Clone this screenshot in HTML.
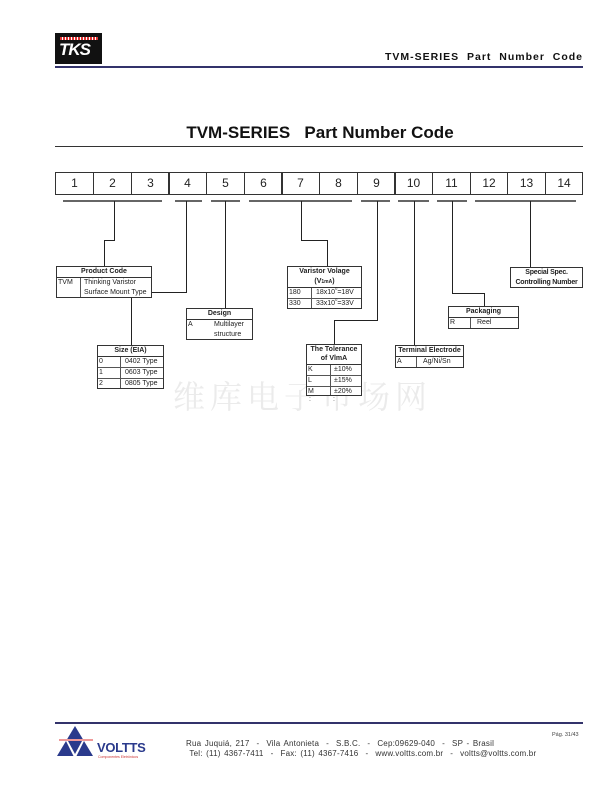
<!DOCTYPE html>
<html><head><meta charset="utf-8"><style>
body{margin:0;background:#fff}
#p{position:relative;width:612px;height:792px;overflow:hidden;font-family:"Liberation Sans",Arial,sans-serif;color:#222;background:#fff}
.a{position:absolute}
.t{position:absolute;border:1px solid #333;background:#fff;font-size:7px;line-height:10px;box-sizing:border-box}
.h{font-weight:bold;text-align:center;border-bottom:1px solid #333;font-size:7px}
.r{position:relative;height:10px;border-bottom:1px solid #555}
.r:last-child{border-bottom:none}
.c1{position:absolute;left:1px;top:0}
.c2{position:absolute;top:0;white-space:nowrap}
.v{position:absolute;top:0;bottom:0;border-left:1px solid #555}
.cell{position:absolute;top:172px;height:23px;border:1px solid #333;box-sizing:border-box;font-size:12px;line-height:21px;text-align:center;color:#222}
sup{font-size:4px;line-height:0;vertical-align:4px}
</style></head><body><div id="p">
<div class="a" style="left:55px;top:33px;width:47px;height:31px;background:#111"></div>
<div class="a" style="left:60px;top:37px;width:38px;height:3px;background:repeating-linear-gradient(90deg,#d33 0 2px,#fff 2px 3px)"></div>
<div class="a" style="left:59px;top:40px;font:italic bold 17px 'Liberation Sans',sans-serif;color:#fff;letter-spacing:-1px">TKS</div>
<div class="a" style="left:300px;top:51px;width:283px;text-align:right;font-weight:bold;font-size:10.5px;letter-spacing:1px;color:#111">TVM-SERIES&nbsp; Part&nbsp; Number&nbsp; Code</div>
<div class="a" style="left:55px;top:66px;width:528px;height:2px;background:#33336b"></div>
<div class="a" style="left:0;top:123px;width:640px;text-align:center;font-weight:bold;font-size:17px;color:#111">TVM-SERIES&nbsp;&nbsp; Part Number Code</div>
<div class="a" style="left:55px;top:146px;width:528px;height:1px;background:#333"></div>

<div class="cell" style="left:55px;width:39px">1</div>
<div class="cell" style="left:93px;width:39px">2</div>
<div class="cell" style="left:131px;width:39px">3</div>
<div class="cell" style="left:168px;width:39px">4</div>
<div class="cell" style="left:206px;width:39px">5</div>
<div class="cell" style="left:244px;width:39px">6</div>
<div class="cell" style="left:281px;width:39px">7</div>
<div class="cell" style="left:319px;width:39px">8</div>
<div class="cell" style="left:357px;width:39px">9</div>
<div class="cell" style="left:394px;width:39px">10</div>
<div class="cell" style="left:432px;width:39px">11</div>
<div class="cell" style="left:470px;width:38px">12</div>
<div class="cell" style="left:507px;width:39px">13</div>
<div class="cell" style="left:545px;width:38px">14</div>

<div class="a" style="left:173px;top:372px;font-family:'Noto Serif CJK SC',serif;font-size:32px;letter-spacing:5px;color:#ebebeb">维库电子市场网</div>

<svg class="a" style="left:0;top:0" width="612" height="792">
<g stroke="#666" stroke-width="2">
<line x1="63" y1="201" x2="162" y2="201"/><line x1="175" y1="201" x2="202" y2="201"/>
<line x1="211" y1="201" x2="240" y2="201"/><line x1="249" y1="201" x2="352" y2="201"/>
<line x1="361" y1="201" x2="390" y2="201"/><line x1="398" y1="201" x2="429" y2="201"/>
<line x1="437" y1="201" x2="467" y2="201"/><line x1="475" y1="201" x2="576" y2="201"/>
</g>
<g stroke="#222" stroke-width="1" fill="none">
<polyline points="114.5,201 114.5,240.5 104.5,240.5 104.5,267"/>
<polyline points="186.5,201 186.5,292.5 131.5,292.5 131.5,345"/>
<polyline points="225.5,201 225.5,308"/>
<polyline points="301.5,201 301.5,240.5 327.5,240.5 327.5,266"/>
<polyline points="377.5,201 377.5,320.5 334.5,320.5 334.5,344"/>
<polyline points="414.5,201 414.5,345"/>
<polyline points="452.5,201 452.5,293.5 484.5,293.5 484.5,306"/>
<polyline points="530.5,201 530.5,267"/>
</g>
</svg>

<div class="t" style="left:56px;top:266px;width:96px;height:32px">
<div class="h" style="height:10px">Product Code</div>
<div class="v" style="left:23px;top:11px"></div>
<div class="c1" style="top:11px">TVM</div>
<div class="c2" style="left:27px;top:11px">Thinking Varistor<br>Surface Mount Type</div>
</div>

<div class="t" style="left:97px;top:345px;width:67px;height:44px">
<div class="h" style="height:10px">Size (EIA)</div>
<div class="v" style="left:22px;top:11px"></div>
<div class="r"><span class="c1">0</span><span class="c2" style="left:27px">0402 Type</span></div>
<div class="r"><span class="c1">1</span><span class="c2" style="left:27px">0603 Type</span></div>
<div class="r"><span class="c1">2</span><span class="c2" style="left:27px">0805 Type</span></div>
</div>

<div class="t" style="left:186px;top:308px;width:67px;height:32px">
<div class="h" style="height:10px">Design</div>
<div class="c1" style="top:11px">A</div>
<div class="c2" style="left:27px;top:11px">Multilayer<br>structure</div>
</div>

<div class="t" style="left:287px;top:266px;width:75px;height:43px">
<div class="h" style="height:20px;line-height:9.5px">Varistor Volage<br>(V<span style="font-size:5px">1mA</span>)</div>
<div class="v" style="left:23px;top:21px"></div>
<div class="r"><span class="c1">180</span><span class="c2" style="left:28px">18x10<sup>0</sup>=18V</span></div>
<div class="r"><span class="c1">330</span><span class="c2" style="left:28px">33x10<sup>0</sup>=33V</span></div>
</div>

<div class="t" style="left:306px;top:344px;width:56px;height:52px">
<div class="h" style="height:19px;line-height:9px">The Tolerance<br>of VlmA</div>
<div class="v" style="left:23px;top:20px"></div>
<div class="r"><span class="c1">K</span><span class="c2" style="left:27px">±10%</span></div>
<div class="r"><span class="c1">L</span><span class="c2" style="left:27px">±15%</span></div>
<div class="r"><span class="c1">M</span><span class="c2" style="left:27px">±20%</span></div>
</div>
<div class="a" style="left:309px;top:396px;font-size:7px;color:#555">:</div>
<div class="a" style="left:333px;top:396px;font-size:7px;color:#555">:</div>

<div class="t" style="left:395px;top:345px;width:69px;height:23px">
<div class="h" style="height:10px;white-space:nowrap">Terminal Electrode</div>
<div class="v" style="left:20px;top:11px"></div>
<div class="c1" style="top:11px">A</div>
<div class="c2" style="left:27px;top:11px">Ag/Ni/Sn</div>
</div>

<div class="t" style="left:448px;top:306px;width:71px;height:23px">
<div class="h" style="height:10px">Packaging</div>
<div class="v" style="left:21px;top:11px"></div>
<div class="c1" style="top:11px">R</div>
<div class="c2" style="left:28px;top:11px">Reel</div>
</div>

<div class="t" style="left:510px;top:267px;width:73px;height:21px;font-weight:bold;text-align:center;line-height:9.5px;white-space:nowrap;letter-spacing:-0.2px">Special Spec.<br>Controlling Number</div>

<div class="a" style="left:55px;top:722px;width:528px;height:2px;background:#33336b"></div>
<svg class="a" style="left:55px;top:726px" width="50" height="36">
<polygon points="20,0 38,30 2,30" fill="#2a3a8c"/>
<polygon points="10,13 30,13 20,33" fill="#fff"/>
<polygon points="13,15 27,15 20,28" fill="#2a3a8c"/>
<line x1="4" y1="14" x2="38" y2="14" stroke="#d33" stroke-width="1"/>
</svg>
<div class="a" style="left:97px;top:740px;font-weight:bold;font-size:13px;color:#2a3a8c;letter-spacing:-0.3px">VOLTTS</div>
<div class="a" style="left:98px;top:755px;font-size:3.5px;color:#c33">Componentes Eletrônicos</div>
<div class="a" style="left:186px;top:739px;font-size:8px;letter-spacing:0.2px;word-spacing:1.1px;color:#333;white-space:pre;line-height:10px">Rua Juquiá, 217  -  Vila Antonieta  -  S.B.C.  -  Cep:09629-040  -  SP - Brasil
 Tel: (11) 4367-7411  -  Fax: (11) 4367-7416  -  www.voltts.com.br  -  voltts@voltts.com.br</div>
<div class="a" style="left:552px;top:732px;font-size:5.5px;color:#444">Pág. 31/43</div>
</div></body></html>
